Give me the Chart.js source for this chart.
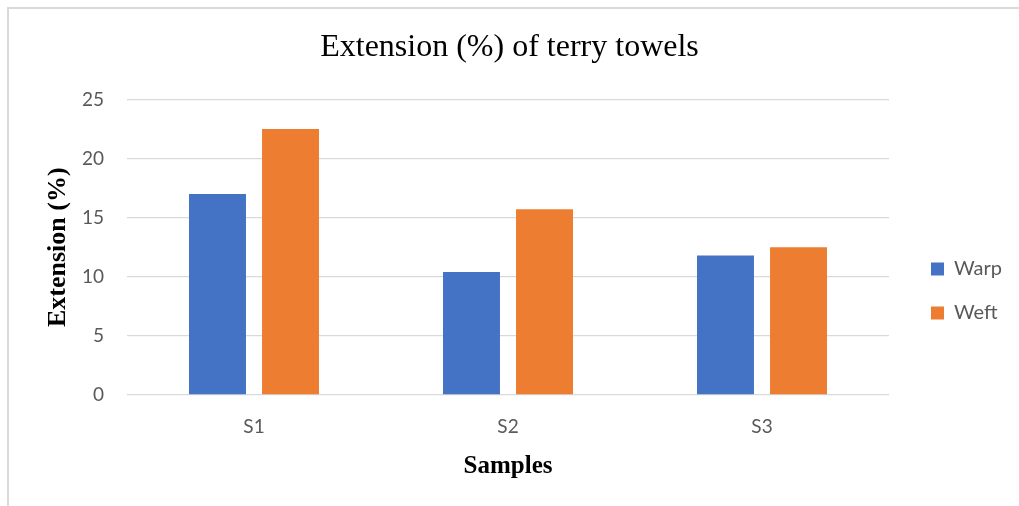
<!DOCTYPE html>
<html>
<head>
<meta charset="utf-8">
<title>Extension (%) of terry towels</title>
<script src="https://cdn.jsdelivr.net/npm/chart.js@4/dist/chart.umd.min.js"></script>
<style>
  html, body { margin: 0; padding: 0; background: #ffffff; overflow: hidden; }
  #frame {
    position: absolute; left: 7px; top: 7px; width: 1100px; height: 600px;
    border: 2px solid #d9d9d9; box-sizing: border-box;
  }
  #wrap { position: absolute; left: 0; top: 0; width: 1019px; height: 506px; }
</style>
</head>
<body>
<div id="frame"></div>
<div id="wrap"><canvas id="chart" width="1019" height="506"></canvas></div>
<script>
// Sample names and measured extension values (%)
const categories = ['S1', 'S2', 'S3'];
const warpValues = [17.0, 10.4, 11.8];
const weftValues = [22.5, 15.7, 12.5];
const yTickValues = [0, 5, 10, 15, 20, 25];

const SANS = 'Lato, "Open Sans", sans-serif';
const SERIF = '"Liberation Serif", "Times New Roman", serif';
const LEGEND_WIDTH = 130;
const LEGEND_ITEM_X = 931;
const LEGEND_SHIFT_Y = 38;

// Gives the legend a fixed column on the right and places its items
const legendPlacement = {
  id: 'legendPlacement',
  beforeLayout(chart) {
    const lg = chart.legend;
    if (lg && !lg._fixedWidth) {
      const fit = lg.fit;
      lg.fit = function () { fit.call(this); this.width = LEGEND_WIDTH; };
      lg._fixedWidth = true;
    }
  },
  afterLayout(chart) {
    const lg = chart.legend;
    const pad = lg.options.labels.padding;
    const w = lg.width;
    lg.left = LEGEND_ITEM_X - pad;
    lg.right = lg.left + w;
    lg.top += LEGEND_SHIFT_Y;
    lg.bottom += LEGEND_SHIFT_Y;
  }
};

new Chart(document.getElementById('chart'), {
  type: 'bar',
  data: {
    labels: categories,
    datasets: [
      { label: 'Warp', data: warpValues, backgroundColor: '#4472C4', borderWidth: 0 },
      { label: 'Weft', data: weftValues, backgroundColor: '#ED7D31', borderWidth: 0 }
    ]
  },
  options: {
    responsive: false,
    animation: false,
    devicePixelRatio: 1,
    layout: { padding: 0 },
    datasets: {
      bar: { categoryPercentage: 0.575, barPercentage: 0.78 }
    },
    plugins: {
      title: {
        display: true,
        text: 'Extension (%) of terry towels',
        color: '#000000',
        font: { family: SERIF, size: 32, weight: 'normal' },
        padding: { top: 28, bottom: 33 }
      },
      legend: {
        display: true,
        position: 'right',
        align: 'center',
        labels: {
          color: '#595959',
          font: { family: SANS, size: 20 },
          boxWidth: 13,
          boxHeight: 13,
          padding: 24
        }
      },
      tooltip: { enabled: false }
    },
    scales: {
      x: {
        grid: { display: false, drawTicks: false },
        border: { display: false },
        ticks: { color: '#595959', font: { family: SANS, size: 19 }, padding: 20 },
        title: {
          display: true,
          text: 'Samples',
          color: '#000000',
          font: { family: SERIF, size: 25, weight: 'bold' },
          padding: { top: 25, bottom: 24 }
        },
        afterFit(scale) { scale.height = 111; }
      },
      y: {
        min: yTickValues[0],
        max: yTickValues[yTickValues.length - 1],
        ticks: {
          stepSize: yTickValues[1] - yTickValues[0],
          color: '#595959',
          font: { family: SANS, size: 19 },
          padding: 23
        },
        grid: { color: '#d9d9d9', lineWidth: 1.3, drawTicks: false },
        border: { display: false },
        title: {
          display: true,
          text: 'Extension (%)',
          color: '#000000',
          font: { family: SERIF, size: 26, weight: 'bold' },
          padding: { top: 43, bottom: 43 }
        },
        afterFit(scale) { scale.width = 127; }
      }
    }
  },
  plugins: [legendPlacement]
});
</script>
</body>
</html>
